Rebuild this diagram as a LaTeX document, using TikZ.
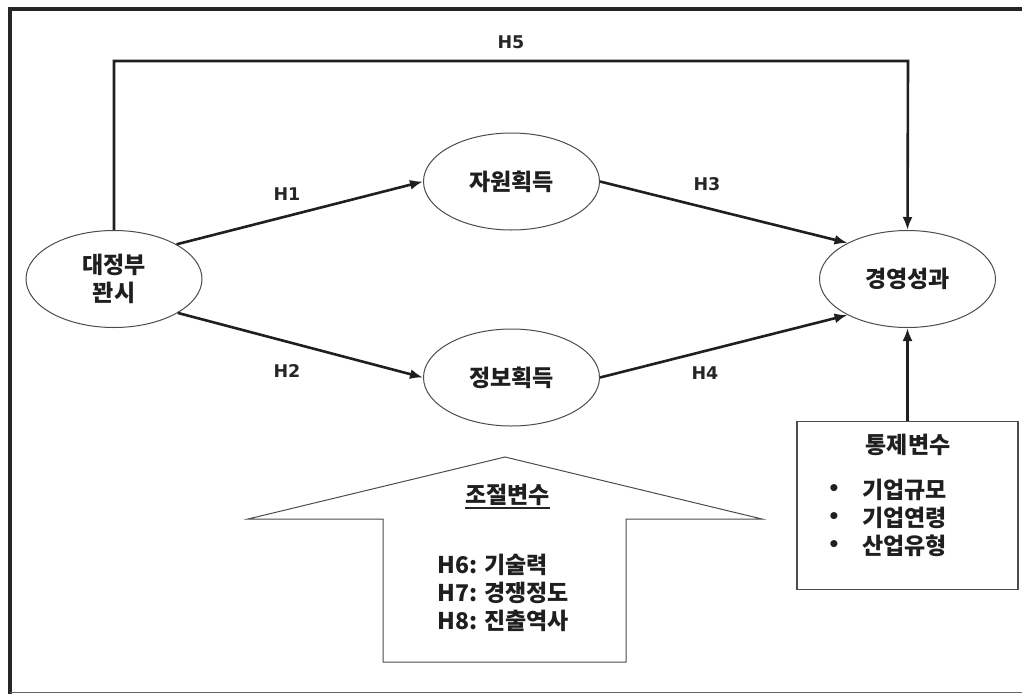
\documentclass[tikz,border=0pt]{standalone}
\usepackage{fontspec}
\setmainfont{Noto Sans CJK KR}
\newfontfamily\hfont{DejaVu Sans}
\usetikzlibrary{arrows.meta,shapes.geometric,calc}
\begin{document}
\begin{tikzpicture}[x=1pt,y=-1pt,
  ell/.style={ellipse,draw=black!70,line width=1pt,minimum width=176pt,minimum height=97pt,inner sep=0pt,font=\fontsize{23}{28}\selectfont\bfseries,align=center,text=black!88},
  conn/.style={line width=2.6pt,draw=black!88,-{Latex[length=13pt,width=10pt]}},
  hlab/.style={font=\hfont\fontsize{17.5}{20}\selectfont\bfseries,text=black!85,inner sep=0pt},
  txt/.style={font=\fontsize{23}{28.3}\selectfont\bfseries,text=black!88,inner sep=0pt},
  ]
\useasboundingbox (0,0) rectangle (1022,694);
% outer frame (cropped)
\draw[line width=4pt,black!85] (1030,9) -- (9.5,9) -- (9.5,694);
\draw[line width=1.5pt,black!60] (9.5,692.5) -- (1030,692.5);

% ellipses
\node[ell] (gov) at (114,279) {대정부\\꽌시};
\node[ell] (res) at (511.5,181.5) {자원획득};
\node[ell] (info) at (511.5,377.5) {정보획득};
\node[ell] (perf) at (907.5,279) {경영성과};

% control box
\node[draw=black!70,line width=1.3pt,minimum width=221pt,minimum height=168pt,inner sep=0pt] (ctrl) at (907.5,505.5) {};
\node[txt] (ctitle) at (908,445) {통제변수};
\node[txt,align=center] (cbul) at (834,518) {\hfont\fontsize{20}{28.3}\selectfont •\\\hfont\fontsize{20}{28.3}\selectfont •\\\hfont\fontsize{20}{28.3}\selectfont •};
\node[txt,anchor=west,align=left] (citems) at (862,518) {기업규모\\기업연령\\산업유형};

% moderator block arrow
\draw[draw=black!70,line width=1pt,fill=white] (505,457) coordinate (apex) -- (762,519) coordinate (rw) -- (626,519) -- (626,662) -- (383,662) -- (383,519) -- (248,519) coordinate (lw) -- cycle;
\node[txt,anchor=base] (modt) at (507.5,503) {조절변수};
\draw[line width=1.2pt,black!85] ([yshift=-5pt]modt.base west) -- ([yshift=-5pt]modt.base east);
\node[txt,anchor=west,align=left] (modl) at (437,593) {H6: 기술력\\H7: 경쟁정도\\H8: 진출역사};

% connectors
\coordinate (h5r) at (908,61);
\draw[conn] (gov.north) |- (h5r) -- (perf.north);
\draw[conn] (gov.29) -- (res.west);
\draw[conn] (gov.-28) -- (info.west);
\draw[conn] (res.east) -- (perf.149);
\draw[conn] (info.east) -- (perf.211);
\draw[conn] (ctrl.north) -- (perf.south);

% labels
\node[hlab] (l1) at (287,194) {H1};
\node[hlab] (l2) at (287,371) {H2};
\node[hlab] (l3) at (707,184) {H3};
\node[hlab] (l4) at (705,373) {H4};
\node[hlab] (l5) at (511,42) {H5};
\end{tikzpicture}
\end{document}
